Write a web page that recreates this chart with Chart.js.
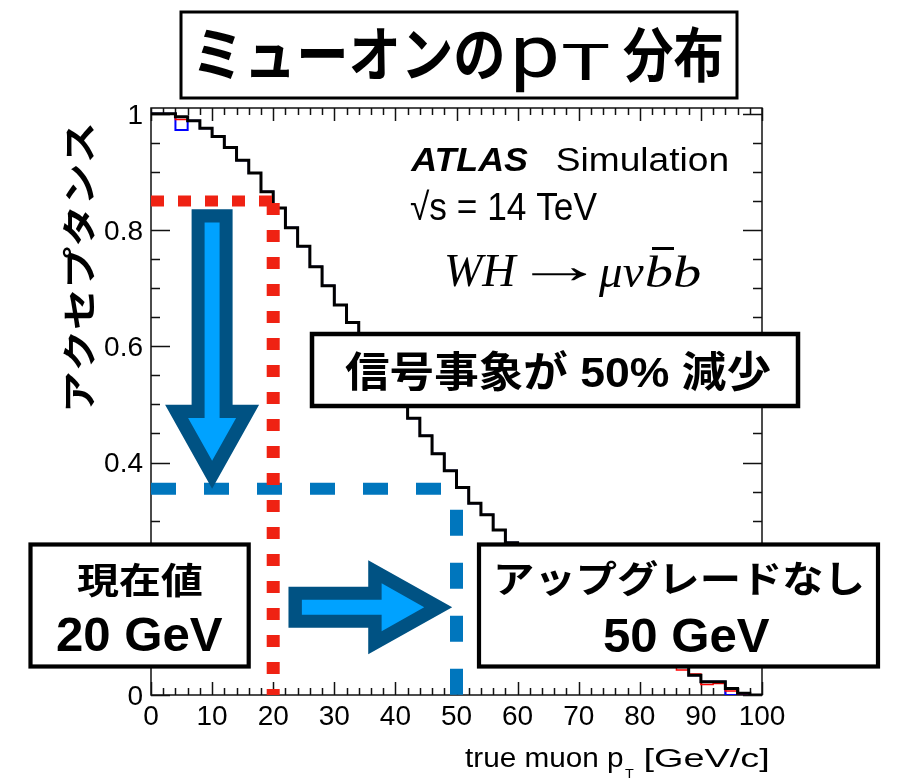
<!DOCTYPE html>
<html>
<head>
<meta charset="utf-8">
<script src="https://cdn.jsdelivr.net/npm/chart.js@4"></script>
<style>
html,body{margin:0;padding:0;background:#fff;}
#wrap{width:913px;height:780px;position:relative;}
</style>
</head>
<body>
<div id="wrap"><canvas id="c" width="913" height="780"></canvas></div>
<script>
// ---------- data ----------
const binLowEdges = [0,2,4,6,8,10,12,14,16,18,20,22,24,26,28,30,32,34,36,38,40,42,44,46,48,
                     50,52,54,56,58,60,62,64,66,68,70,72,74,76,78,80,82,84,86,88,90,92,94,96,98];
const histUpperEdge = 100;
const acceptance = [1.000,1.000,0.995,0.988,0.975,0.961,0.942,0.920,0.898,0.866,
                    0.838,0.804,0.772,0.737,0.704,0.671,0.641,0.608,0.575,0.542,
                    0.509,0.476,0.446,0.415,0.386,0.357,0.330,0.310,0.284,0.262,
                    0.240,0.219,0.199,0.181,0.164,0.148,0.133,0.119,0.106,0.095,
                    0.085,0.075,0.065,0.055,0.034,0.023,0.023,0.011,0.003,0.000];
const acceptanceRed = [1.000,1.000,0.990,0.988,0.975,0.961,0.942,0.920,0.898,0.866,
                    0.838,0.804,0.772,0.737,0.704,0.671,0.641,0.608,0.575,0.542,
                    0.509,0.476,0.446,0.415,0.386,0.357,0.330,0.310,0.284,0.262,
                    0.240,0.219,0.199,0.181,0.164,0.148,0.133,0.119,0.106,0.095,
                    0.085,0.075,0.062,0.043,0.036,0.018,0.020,0.007,0.002,0.000];
const acceptanceBlue = [1.000,1.000,0.972,0.988,0.975,0.961,0.942,0.920,0.898,0.866,
                    0.838,0.804,0.772,0.737,0.704,0.671,0.641,0.608,0.575,0.542,
                    0.509,0.476,0.446,0.415,0.386,0.357,0.330,0.310,0.284,0.262,
                    0.240,0.219,0.199,0.181,0.164,0.148,0.133,0.119,0.106,0.095,
                    0.085,0.075,0.065,0.055,0.034,0.023,0.023,0.000,0.000,0.000];
const currentCutPt = 20, currentCutAcc = 0.85;
const upgradeCutPt = 50, upgradeCutAcc = 0.355;
const xTickValues = [0,10,20,30,40,50,60,70,80,90,100];
const yTickValues = [0,0.2,0.4,0.6,0.8,1];
const xMinorStep = 2, yMinorStep = 0.05;

// ---------- helpers ----------
function histPoints(vals){
  const pts = binLowEdges.map((e,i)=>({x:e,y:vals[i]}));
  pts.push({x:histUpperEdge,y:vals[vals.length-1]});
  return pts;
}
const LATIN = '"Liberation Sans", Arial, sans-serif';
const MIX = '"Liberation Sans", "Noto Sans CJK JP", sans-serif';
const CJK = '"Noto Sans CJK JP", sans-serif';
const SERIF = '"Liberation Serif", "DejaVu Serif", serif';
const MED = 'Roboto, "Liberation Sans", sans-serif';

function fitBox(ctx, text, font, l, r, t, b){
  ctx.save();
  ctx.font = font; ctx.textAlign='left'; ctx.textBaseline='alphabetic';
  const m = ctx.measureText(text);
  const inkL = -m.actualBoundingBoxLeft, inkR = m.actualBoundingBoxRight;
  const inkT = -m.actualBoundingBoxAscent, inkB = m.actualBoundingBoxDescent;
  const sx = (r-l)/(inkR-inkL), sy = (b-t)/(inkB-inkT);
  ctx.translate(l,t); ctx.scale(sx,sy);
  ctx.fillText(text, -inkL, -inkT);
  ctx.restore();
}
function box(ctx, x0,y0,x1,y1,lw){
  ctx.save();
  ctx.fillStyle='#fff'; ctx.fillRect(x0,y0,x1-x0,y1-y0);
  ctx.strokeStyle='#000'; ctx.lineWidth=lw; ctx.strokeRect(x0,y0,x1-x0,y1-y0);
  ctx.restore();
}
function arrow(ctx, x0,y0,x1,y1){
  const L = Math.hypot(x1-x0,y1-y0), ux=(x1-x0)/L, uy=(y1-y0)/L, vx=-uy, vy=ux;
  const P = (a,b)=>[x0+ux*a+vx*b, y0+uy*a+vy*b];
  const sw=20.5, hw=47, hl=84, bd=13.4, isw=7.5, ihw=24, it=28;
  const outer=[P(0,-sw),P(L-hl,-sw),P(L-hl,-hw),P(L,0),P(L-hl,hw),P(L-hl,sw),P(0,sw)];
  const inner=[P(bd,-isw),P(L-hl+bd,-isw),P(L-hl+bd,-ihw),P(L-it,0),P(L-hl+bd,ihw),P(L-hl+bd,isw),P(bd,isw)];
  const poly=(pts,col)=>{ctx.beginPath();pts.forEach((p,i)=>i?ctx.lineTo(p[0],p[1]):ctx.moveTo(p[0],p[1]));ctx.closePath();ctx.fillStyle=col;ctx.fill();};
  poly(outer,'#005283'); poly(inner,'#00a2ff');
}

// ---------- plugins ----------
const framePlugin = {
  id:'frame',
  beforeDatasetsDraw(chart){
    const {ctx, chartArea:a, scales:{x,y}} = chart;
    ctx.save();
    ctx.strokeStyle='#111'; ctx.lineWidth=1.5;
    ctx.beginPath();
    for(let v=0; v<=100+1e-9; v+=xMinorStep){
      const px = Math.round(x.getPixelForValue(v))+0.5;
      const len = xTickValues.includes(Math.round(v)) ? 13 : 7;
      ctx.moveTo(px,a.bottom); ctx.lineTo(px,a.bottom-len);
      ctx.moveTo(px,a.top); ctx.lineTo(px,a.top+len);
    }
    for(let k=0; k<=20; k++){
      const v = k*yMinorStep;
      const py = Math.round(y.getPixelForValue(v))+0.5;
      const len = (k%4===0) ? 19 : 9;
      ctx.moveTo(a.left,py); ctx.lineTo(a.left+len,py);
      ctx.moveTo(a.right,py); ctx.lineTo(a.right-len,py);
    }
    ctx.stroke();
    ctx.strokeRect(a.left,a.top,a.right-a.left,a.bottom-a.top);
    ctx.restore();
  }
};

const annotPlugin = {
  id:'annot',
  afterDraw(chart){
    const {ctx, scales:{x,y}} = chart;
    ctx.save();
    ctx.fillStyle='#000';
    // arrows (anchored in data coordinates)
    arrow(ctx, x.getPixelForValue(10), y.getPixelForValue(0.836), x.getPixelForValue(10), y.getPixelForValue(upgradeCutAcc));
    arrow(ctx, x.getPixelForValue(22.5), y.getPixelForValue(0.151), x.getPixelForValue(49.3), y.getPixelForValue(0.151));

    // title box
    box(ctx,181,12,737,98,3);
    ctx.fillStyle='#000';
    fitBox(ctx,'ミューオンの','bold 56px '+CJK,198,502,28,80);
    fitBox(ctx,'p','400 72px '+MED,515,557,37,93);
    fitBox(ctx,'T','400 48px '+MED,563,609,45,80);
    fitBox(ctx,'分布','bold 56px '+CJK,623,722,26,84);

    // y axis title
    ctx.save();
    ctx.translate(78.6,267); ctx.rotate(-Math.PI/2);
    fitBox(ctx,'アクセプタンス','bold 41px '+CJK,-142,142,-16.9,16.9);
    ctx.restore();

    // x axis title
    fitBox(ctx,'true muon p','26px '+LATIN,465,623,748,772);
    fitBox(ctx,'T','16px '+LATIN,625,634,768,778);
    fitBox(ctx,'[GeV/c]','26px '+LATIN,645,768,748,772);

    // ATLAS label
    fitBox(ctx,'ATLAS','italic bold 30px '+LATIN,410,528,149,171);
    fitBox(ctx,'Simulation','30px '+LATIN,557,727,147,171);
    fitBox(ctx,'√s = 14 TeV','30px '+LATIN,410,597,189,221);
    fitBox(ctx,'WH','italic 44px '+SERIF,446,518,255,287);
    fitBox(ctx,'→','44px '+SERIF,530,588,268,282);
    fitBox(ctx,'μν','italic 44px '+SERIF,598,644,266,297);
    fitBox(ctx,'bb','italic 44px '+SERIF,646,700,255,287);
    ctx.fillRect(652,247,22,3);

    // boxes
    box(ctx,312,334,798,406,4.5);
    ctx.fillStyle='#000';
    fitBox(ctx,'信号事象が 50% 減少','bold 44px '+MIX,345,770,350,392);

    box(ctx,30.5,544.5,248.7,666.5,4.2);
    ctx.fillStyle='#000';
    fitBox(ctx,'現在値','bold 42px '+CJK,77,202,562,598);
    fitBox(ctx,'20 GeV','bold 46px '+LATIN,57,223,617,651);

    box(ctx,479,544.5,878,666.5,4.2);
    ctx.fillStyle='#000';
    fitBox(ctx,'アップグレードなし','bold 42px '+CJK,497,862,560,597);
    fitBox(ctx,'50 GeV','bold 46px '+LATIN,604,770,618,652);
    ctx.restore();
  }
};

// ---------- chart ----------
const lineBase = {pointRadius:0, tension:0, fill:false};
new Chart(document.getElementById('c').getContext('2d'), {
  type:'line',
  data:{datasets:[
    {...lineBase, label:'cut20h', data:[{x:0,y:currentCutAcc},{x:currentCutPt,y:currentCutAcc}],
      borderColor:'#ef2213', borderWidth:11, borderDash:[13,14], order:0},
    {...lineBase, label:'cut20v', data:[{x:currentCutPt,y:currentCutAcc},{x:currentCutPt,y:0}],
      borderColor:'#ef2213', borderWidth:13, borderDash:[12,15], borderDashOffset:-2, order:0},
    {...lineBase, label:'cut50h', data:[{x:0,y:upgradeCutAcc},{x:upgradeCutPt,y:upgradeCutAcc}],
      borderColor:'#0076bd', borderWidth:12, borderDash:[25,28], order:1},
    {...lineBase, label:'cut50v', data:[{x:upgradeCutPt,y:upgradeCutAcc},{x:upgradeCutPt,y:0}],
      borderColor:'#0076bd', borderWidth:13, borderDash:[26,27], borderDashOffset:-21, order:1},
    {...lineBase, label:'acc', data:histPoints(acceptance), stepped:'before', borderColor:'#000', borderWidth:3, order:2},
    {...lineBase, label:'accRed', data:histPoints(acceptanceRed), stepped:'before', borderColor:'#ff0000', borderWidth:1.5, order:3},
    {...lineBase, label:'accBlue', data:histPoints(acceptanceBlue), stepped:'before', borderColor:'#0000ff', borderWidth:2, order:4}
  ]},
  options:{
    responsive:false, animation:false, devicePixelRatio:1, events:[],
    layout:{padding:{left:0,right:151,top:108,bottom:0}},
    plugins:{legend:{display:false}, tooltip:{enabled:false}},
    scales:{
      x:{type:'linear', min:0, max:100,
         grid:{display:false, drawTicks:false}, border:{display:false},
         afterBuildTicks:s=>{s.ticks = xTickValues.map(v=>({value:v}));},
         afterFit:s=>{s.height = 85;},
         ticks:{font:{family:LATIN,size:28}, color:'#000', padding:5, maxRotation:0, autoSkip:false,
                callback:v=>String(v)}},
      y:{type:'linear', min:0, max:1.01,
         grid:{display:false, drawTicks:false}, border:{display:false},
         afterBuildTicks:s=>{s.ticks = yTickValues.map(v=>({value:v}));},
         afterFit:s=>{s.width = 151;},
         ticks:{font:{family:LATIN,size:28}, color:'#000', padding:8, autoSkip:false, labelOffset:2,
                callback:v=>String(+v.toFixed(2))}}
    }
  },
  plugins:[framePlugin, annotPlugin]
});
</script>
</body>
</html>
